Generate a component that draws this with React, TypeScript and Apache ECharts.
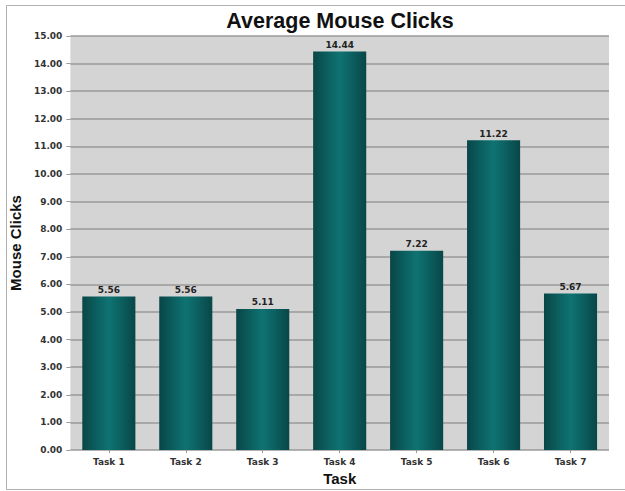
import React, { useEffect, useRef } from "react";
import * as echarts from "echarts";

const categories = ["Task 1", "Task 2", "Task 3", "Task 4", "Task 5", "Task 6", "Task 7"];
const values = [5.56, 5.56, 5.11, 14.44, 7.22, 11.22, 5.67];
const yMin = 0;
const yMax = 15;
const yInterval = 1;

const labelFont = "'DejaVu Sans', Verdana, sans-serif";
const titleFont = "'Liberation Sans', Arial, sans-serif";

export default function App() {
  const ref = useRef<HTMLDivElement>(null);
  useEffect(() => {
    if (!ref.current) return;
    const chart = echarts.init(ref.current, null, { renderer: "svg" });
    chart.setOption({
      animation: false,
      backgroundColor: "#ffffff",
      title: {
        text: "Average Mouse Clicks",
        left: 335,
        textAlign: "center",
        top: 5,
        textStyle: { fontFamily: titleFont, fontWeight: "bold", fontSize: 21.5, color: "#111" },
      },
      graphic: [
        {
          type: "rect",
          shape: { x: 6.5, y: 5.5, width: 640, height: 484 },
          style: { fill: "none", stroke: "#b0b0b0", lineWidth: 1 },
          silent: true,
        },
      ],
      grid: {
        left: 64,
        top: 36,
        right: 16,
        bottom: 39,
        show: true,
        backgroundColor: "#d4d4d4",
        borderWidth: 0,
      },
      xAxis: {
        type: "category",
        data: categories,
        name: "Task",
        nameLocation: "middle",
        nameGap: 21,
        nameTextStyle: { fontFamily: titleFont, fontWeight: "bold", fontSize: 15, color: "#111" },
        axisLine: { show: false },
        axisTick: { show: true, alignWithLabel: true, length: 3, lineStyle: { color: "#999" } },
        axisLabel: { fontFamily: labelFont, fontWeight: "bold", fontSize: 9, color: "#333", margin: 7 },
      },
      yAxis: {
        type: "value",
        min: yMin,
        max: yMax,
        interval: yInterval,
        name: "Mouse Clicks",
        nameLocation: "middle",
        nameGap: 42,
        nameTextStyle: { fontFamily: titleFont, fontWeight: "bold", fontSize: 15, color: "#111" },
        axisLine: { show: false },
        axisTick: { show: true, length: 4, lineStyle: { color: "#999" } },
        axisLabel: {
          fontFamily: labelFont,
          fontWeight: "bold",
          fontSize: 9,
          color: "#333",
          margin: 8,
          formatter: (v: number) => v.toFixed(2),
        },
        splitLine: { show: true, lineStyle: { color: "#9a9a9a", width: 1.5 } },
      },
      series: [
        {
          type: "bar",
          data: values,
          barCategoryGap: "31%",
          itemStyle: {
            color: new echarts.graphic.LinearGradient(0, 0, 1, 0, [
              { offset: 0, color: "#094647" },
              { offset: 0.3, color: "#0c6262" },
              { offset: 0.5, color: "#0f7372" },
              { offset: 0.7, color: "#0c6262" },
              { offset: 1, color: "#094647" },
            ]),
          },
          label: {
            show: true,
            position: "top",
            distance: 2,
            fontFamily: labelFont,
            fontWeight: "bold",
            fontSize: 9,
            color: "#222",
            formatter: (p: any) => Number(p.value).toFixed(2),
          },
        },
      ],
    });
    return () => chart.dispose();
  }, []);
  return (
    <div
      ref={ref}
      style={{ position: "fixed", left: 0, top: 0, width: 625, height: 491 }}
    />
  );
}
